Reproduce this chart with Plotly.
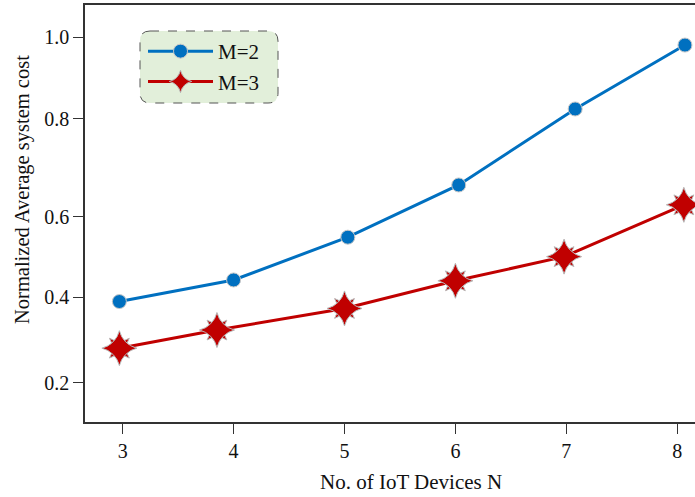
import plotly.graph_objects as go

# ---- data ----
n_devices_m2 = [2.97, 4.00, 5.03, 6.03, 7.08, 8.07]
cost_m2 = [0.388, 0.438, 0.537, 0.658, 0.834, 0.982]
n_devices_m3 = [2.97, 3.85, 5.00, 6.00, 6.98, 8.06]
cost_m3 = [0.280, 0.322, 0.372, 0.436, 0.492, 0.612]

x_ticks = [3, 4, 5, 6, 7, 8]
y_tick_vals = [0.2, 0.398, 0.584, 0.811, 1.0]
y_tick_text = ["0.2", "0.4", "0.6", "0.8", "1.0"]

W, H = 695, 497
ML, MR, MT, MB = 85, 0, 5, 75
PW, PH = W - ML - MR, H - MT - MB

FONT = "Liberation Serif, Times New Roman, serif"
BLUE = "#0070C0"
RED = "#C00000"

fig = go.Figure()
fig.add_trace(go.Scatter(
    x=n_devices_m2, y=cost_m2, mode="lines+markers", name="M=2",
    line=dict(color=BLUE, width=3),
    marker=dict(symbol="circle", size=14, color=BLUE, line=dict(color="#c8c8c8", width=1)),
))
# diagonal points of the 8-point star (drawn beneath the main star)
fig.add_trace(go.Scatter(
    x=n_devices_m3, y=cost_m3, mode="markers", showlegend=False, hoverinfo="skip",
    marker=dict(symbol="star-diamond", size=20, angle=45, color=RED,
                line=dict(color="#b8b8b8", width=1)),
))
fig.add_trace(go.Scatter(
    x=n_devices_m3, y=cost_m3, mode="lines+markers", name="M=3",
    line=dict(color=RED, width=3),
    marker=dict(symbol="star-diamond", size=25, color=RED, line=dict(color="#b8b8b8", width=1)),
))

# rounded legend box (paper coords)
def px2paper(px, py):
    return (px - ML) / PW, (H - MB - py) / PH

x0, y1 = px2paper(140, 31)
x1, y0 = px2paper(278, 103)
rx, ry = 10 / PW, 10 / PH
path = (f"M{x0+rx},{y1} L{x1-rx},{y1} Q{x1},{y1} {x1},{y1-ry} "
        f"L{x1},{y0+ry} Q{x1},{y0} {x1-rx},{y0} "
        f"L{x0+rx},{y0} Q{x0},{y0} {x0},{y0+ry} "
        f"L{x0},{y1-ry} Q{x0},{y1} {x0+rx},{y1} Z")
fig.add_shape(type="path", path=path, xref="paper", yref="paper",
              fillcolor="#E2EFDA", line=dict(color="#555555", width=1, dash="dash"),
              layer="below")

lx, ly = px2paper(143, 31)
fig.update_layout(
    width=W, height=H,
    margin=dict(l=ML, r=MR, t=MT, b=MB),
    paper_bgcolor="white", plot_bgcolor="white",
    font=dict(family=FONT, size=20, color="#111111"),
    showlegend=True,
    legend=dict(x=lx, y=ly, xanchor="left", yanchor="top",
                bgcolor="rgba(0,0,0,0)", borderwidth=0,
                font=dict(family=FONT, size=21, color="#111111"),
                itemwidth=65, tracegroupgap=0),
    xaxis=dict(range=[2.66, 8.1605], tickvals=x_ticks, ticks="outside", ticklen=10,
               tickcolor="#333333", showline=True, linecolor="#333333", linewidth=1.5,
               mirror=True, showgrid=False, zeroline=False,
               tickfont=dict(family=FONT, size=20)),
    yaxis=dict(range=[0.109, 1.0748], tickvals=y_tick_vals, ticktext=y_tick_text,
               ticks="outside", ticklen=10, tickcolor="#333333",
               showline=True, linecolor="#333333", linewidth=1.5, mirror=False,
               showgrid=False, zeroline=False, tickfont=dict(family=FONT, size=20)),
    annotations=[
        dict(text="No. of IoT Devices N", xref="paper", yref="paper",
             x=(411 - ML) / PW, y=(H - MB - 482) / PH, xanchor="center", yanchor="middle",
             showarrow=False, font=dict(family=FONT, size=21, color="#111111")),
        dict(text="Normalized Average system cost", xref="paper", yref="paper",
             x=(22 - ML) / PW, y=(H - MB - 190) / PH, xanchor="center", yanchor="middle",
             textangle=-90, showarrow=False,
             font=dict(family=FONT, size=20.5, color="#111111")),
    ],
)

fig.write_html("out.html", config={"displayModeBar": False},
               post_script="document.body.style.margin='0';document.body.style.overflow='hidden';")
